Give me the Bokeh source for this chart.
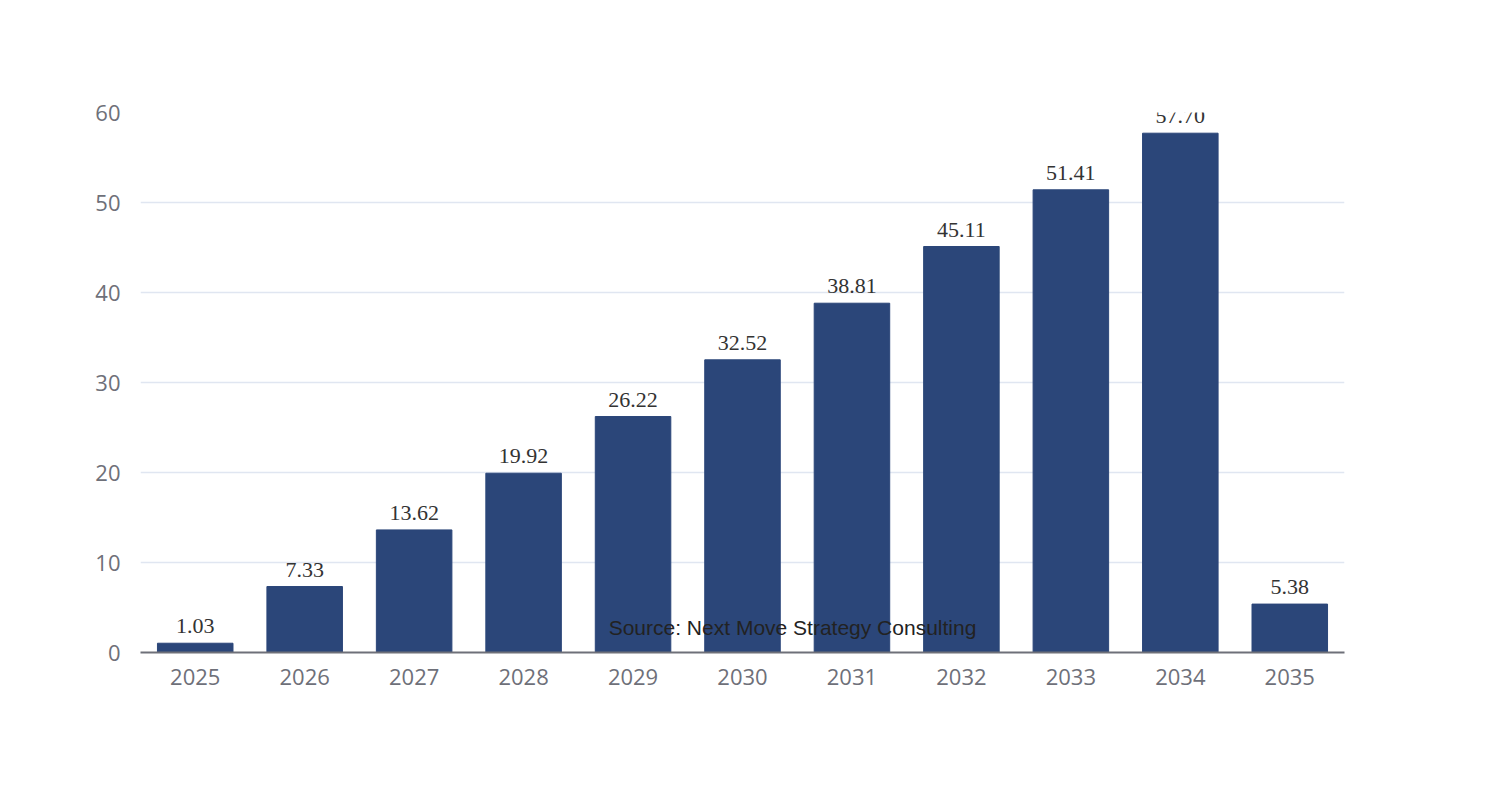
from bokeh.plotting import figure
from bokeh.models import ColumnDataSource, Label, Range1d, LabelSet
from bokeh.embed import file_html
from bokeh.resources import INLINE

years = ["2025","2026","2027","2028","2029","2030","2031","2032","2033","2034","2035"]
values = [1.03,7.33,13.62,19.92,26.22,32.52,38.81,45.11,51.41,57.70,5.38]
labels = [f"{v:.2f}" for v in values]

src = ColumnDataSource(dict(x=years, top=values, lab=labels))
p = figure(x_range=years, y_range=Range1d(0, 60), width=1486, height=784,
           output_backend="svg", toolbar_location=None,
           min_border_left=140, min_border_right=142, min_border_top=112, min_border_bottom=132)
p.vbar(x="x", top="top", width=0.69, source=src, color="#2b4679")
p.add_layout(LabelSet(x="x", y="top", text="lab", source=src, text_align="center",
                      y_offset=10, text_font_size="22px", text_color="#333333",
                      text_font="Open Sans"))
p.outline_line_color = None
p.xgrid.grid_line_color = None
p.ygrid.grid_line_color = "#e0e6f1"
p.ygrid.grid_line_width = 1.5
p.yaxis.axis_line_color = None
p.yaxis.major_tick_line_color = None
p.yaxis.minor_tick_line_color = None
p.yaxis.ticker = [0,10,20,30,40,50,60]
p.xaxis.major_tick_line_color = None
p.xaxis.axis_line_color = "#6e7079"
p.xaxis.axis_line_width = 2
for ax in (p.xaxis, p.yaxis):
    ax.major_label_text_font_size = "22px"
    ax.major_label_text_color = "#6e7079"
    ax.major_label_text_font = "Open Sans"
p.xaxis.major_label_standoff = 10
p.yaxis.major_label_standoff = 14

p.add_layout(Label(x=743, y=784-23, x_units="screen", y_units="screen", text="Germany Agriculture Robots Market Revenue",
                   text_align="center", text_baseline="middle", text_font_size="34px",
                   text_font_style="bold", text_color="#464646", text_font="Open Sans"))
p.add_layout(Label(x=79, y=784-67, x_units="screen", y_units="screen", text="Billion USD",
                   text_baseline="middle", text_font_size="22px", text_color="#6e7079", text_font="Open Sans"))
p.add_layout(Label(x=652, y=784-759, x_units="screen", y_units="screen", text="Source: Next Move Strategy Consulting",
                   text_align="center", text_baseline="middle", text_font_size="21px", text_color="#222222",
                   text_font="Liberation Sans"))
open("out.html", "w").write(file_html(p, INLINE))
